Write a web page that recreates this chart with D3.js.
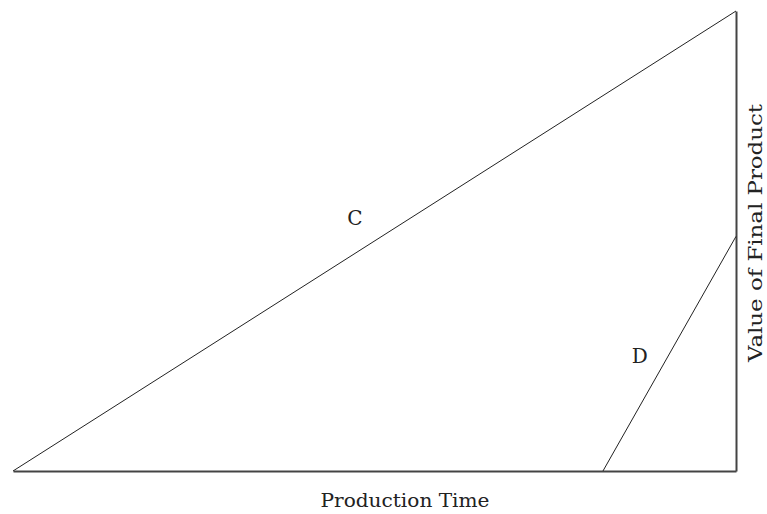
<!DOCTYPE html>
<html><head><meta charset="utf-8">
<script src="https://cdn.jsdelivr.net/npm/d3@7"></script>
<style>body{margin:0;background:#fff}svg{display:block}</style>
</head><body>
<svg id="c" width="767" height="514"></svg>
<script>
const lineNames = ["C", "D"];
const lineC = [[0, 0], [10, 10]];
const lineD = [[8.16, 0], [10, 5.1]];
const labelPos = [[4.73, 5.5], [8.67, 2.5]];
const xTitle = "Production Time";
const yTitle = "Value of Final Product";

const svg = d3.select("#c");
const x = d3.scaleLinear().domain([0, 10]).range([13, 736]);
const y = d3.scaleLinear().domain([0, 10]).range([471, 11]);
const font = "'DejaVu Serif', 'Liberation Serif', serif";

svg.append("g").attr("transform", `translate(0,${y(0)})`)
  .call(d3.axisBottom(x).ticks(0).tickSize(0))
  .call(g => g.select(".domain").attr("stroke", "#444").attr("stroke-width", 2));
svg.append("g").attr("transform", `translate(${x(10)},0)`)
  .call(d3.axisRight(y).ticks(0).tickSize(0))
  .call(g => g.select(".domain").attr("stroke", "#444").attr("stroke-width", 2));

const line = d3.line().x(d => x(d[0])).y(d => y(d[1]));
[lineC, lineD].forEach(data => {
  svg.append("path").attr("d", line(data)).attr("fill", "none")
    .attr("stroke", "#222").attr("stroke-width", 1);
});

lineNames.forEach((n, i) => {
  svg.append("text").attr("x", x(labelPos[i][0])).attr("y", y(labelPos[i][1]))
    .attr("text-anchor", "middle").attr("dominant-baseline", "central")
    .attr("font-family", font).attr("font-size", 20).attr("fill", "#222").text(n);
});

svg.append("text").attr("x", 405).attr("y", 507).attr("text-anchor", "middle")
  .attr("font-family", font).attr("font-size", 19).attr("fill", "#222")
  .attr("textLength", 169).attr("lengthAdjust", "spacingAndGlyphs").text(xTitle);
svg.append("text").attr("transform", "translate(762,233) rotate(-90)")
  .attr("text-anchor", "middle").attr("font-family", font).attr("font-size", 18)
  .attr("fill", "#222").attr("textLength", 258).attr("lengthAdjust", "spacingAndGlyphs")
  .text(yTitle);
</script>
</body></html>
